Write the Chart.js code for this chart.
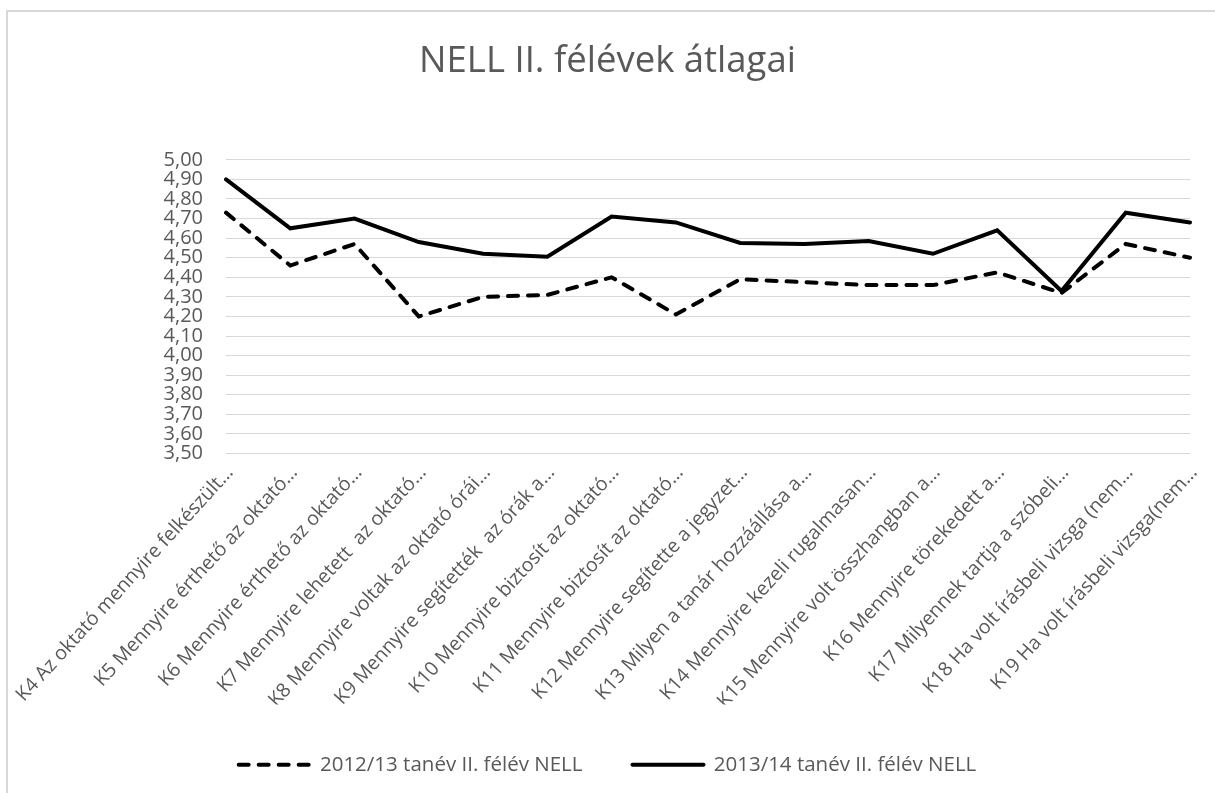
<!DOCTYPE html>
<html>
<head>
<meta charset="utf-8">
<script src="https://cdn.jsdelivr.net/npm/chart.js@4"></script>
<style>
  body { margin: 0; background: #fff; }
  #wrap { position: relative; width: 1215px; height: 793px; }
  #frame { position: absolute; left: 6px; top: 10px; right: 0; bottom: 0;
           border-left: 2px solid #d9d9d9; border-top: 2px solid #d9d9d9; }
  canvas { position: absolute; left: 0; top: 0; }
</style>
</head>
<body>
<div id="wrap">
  <div id="frame"></div>
  <canvas id="chart" width="1215" height="793"></canvas>
</div>
<script>
let categories = [
  "K4 Az oktató mennyire felkészült…",
  "K5 Mennyire érthető az oktató…",
  "K6 Mennyire érthető az oktató…",
  "K7 Mennyire lehetett  az oktató…",
  "K8 Mennyire voltak az oktató órái…",
  "K9 Mennyire segítették  az órák a…",
  "K10 Mennyire biztosít az oktató…",
  "K11 Mennyire biztosít az oktató…",
  "K12 Mennyire segítette a jegyzet…",
  "K13 Milyen a tanár hozzáállása a…",
  "K14 Mennyire kezeli rugalmasan…",
  "K15 Mennyire volt összhangban a…",
  "K16 Mennyire törekedett a…",
  "K17 Milyennek tartja a szóbeli…",
  "K18 Ha volt írásbeli vizsga (nem…",
  "K19 Ha volt írásbeli vizsga(nem…"
];
let series2012 = [4.73, 4.46, 4.57, 4.20, 4.30, 4.31, 4.40, 4.21, 4.39, 4.375, 4.36, 4.36, 4.425, 4.32, 4.57, 4.50];
let series2013 = [4.90, 4.65, 4.70, 4.58, 4.52, 4.505, 4.71, 4.68, 4.575, 4.57, 4.585, 4.52, 4.64, 4.33, 4.73, 4.68];
let seriesNames = ["2012/13 tanév II. félév NELL", "2013/14 tanév II. félév NELL"];
let yMin = 3.5;
let yMax = 5.0;
let yStep = 0.1;

let gray = "#595959";

// legend keeps the dash of each line
function legendLabels(chart) {
  let items = Chart.defaults.plugins.legend.labels.generateLabels(chart);
  items.forEach(function (item) {
    let ds = chart.data.datasets[item.datasetIndex];
    item.lineDash = ds.borderDash || [];
    item.lineWidth = ds.borderWidth;
    item.lineCap = "round";
    item.strokeStyle = ds.borderColor;
  });
  return items;
}

let ctx = document.getElementById("chart");
let chart = new Chart(ctx, {
  type: "line",
  data: {
    labels: categories,
    datasets: [{
      label: seriesNames[0],
      data: series2012,
      borderColor: "#000",
      backgroundColor: "#000",
      borderWidth: 4,
      borderDash: [10, 10],
      borderCapStyle: "round",
      pointRadius: 0,
      tension: 0
    },
    {
      label: seriesNames[1],
      data: series2013,
      borderColor: "#000",
      backgroundColor: "#000",
      borderWidth: 4,
      borderCapStyle: "round",
      pointRadius: 0,
      tension: 0
    }]
  },
  options: {
    responsive: false,
    animation: false,
    layout: { padding: { top: 10, right: 25, bottom: 8, left: 25 } },
    plugins: {
      tooltip: { enabled: false },
      title: {
        display: true,
        text: "NELL II. félévek átlagai",
        color: gray,
        font: { family: "'Open Sans'", size: 36.5, weight: "normal" },
        padding: { top: 30, bottom: 76 }
      },
      legend: {
        position: "bottom",
        labels: {
          color: gray,
          font: { family: "'Open Sans'", size: 20.5 },
          usePointStyle: true,
          pointStyle: "line",
          pointStyleWidth: 71,
          padding: 50,
          generateLabels: legendLabels
        }
      }
    },
    scales: {
      x: {
        grid: { display: false },
        border: { display: false },
        ticks: {
          color: gray,
          font: { family: "'Open Sans'", size: 19.5 },
          autoSkip: false,
          minRotation: 47.5,
          maxRotation: 47.5,
          padding: 0,
          labelOffset: 4
        },
        afterFit: function (axis) { axis.height = 251; }
      },
      y: {
        min: yMin,
        max: yMax,
        grid: { color: "#d9d9d9", lineWidth: 1, drawTicks: false },
        border: { display: false },
        ticks: {
          stepSize: yStep,
          autoSkip: false,
          maxTicksLimit: 30,
          color: gray,
          font: { family: "'Open Sans'", size: 20 },
          padding: 23,
          callback: function (value) { return value.toFixed(2).replace(".", ","); }
        },
        afterFit: function (axis) { axis.width = 201; }
      }
    }
  }
});
</script>
</body>
</html>
